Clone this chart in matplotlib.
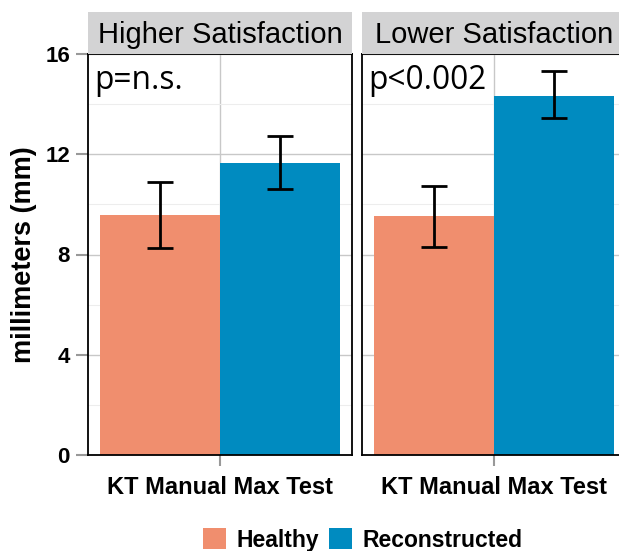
import matplotlib
matplotlib.use("Agg")
import matplotlib.pyplot as plt
from matplotlib.patches import Rectangle, Patch

# ---- data ----
panels = ["Higher Satisfaction", "Lower Satisfaction"]
pvals = ["p=n.s.", "p<0.002"]
groups = ["Healthy", "Reconstructed"]
category = "KT Manual Max Test"
means = {"Higher Satisfaction": [9.57, 11.67], "Lower Satisfaction": [9.52, 14.33]}
err_low = {"Higher Satisfaction": [8.25, 10.63], "Lower Satisfaction": [8.3, 13.43]}
err_high = {"Higher Satisfaction": [10.9, 12.73], "Lower Satisfaction": [10.72, 15.32]}
y_ticks = [0, 4, 8, 12, 16]
colors = ["#F08E6E", "#008BC0"]

W, H = 619, 551
fig = plt.figure(figsize=(W / 100, H / 100), dpi=100)
sans = ["Liberation Sans", "DejaVu Sans"]

panel_left = [88, 362]
panel_w = 264
top_px, bot_px = 54, 455
strip_top = 12

for i, name in enumerate(panels):
    x0 = panel_left[i] / W
    ax = fig.add_axes([x0, 1 - bot_px / H, panel_w / W, (bot_px - top_px) / H])
    ax.set_xlim(-0.55, 0.55)
    ax.set_ylim(0, 16)
    ax.set_yticks(y_ticks)
    ax.set_yticks([2, 6, 10, 14], minor=True)
    ax.grid(axis="y", which="major", color="#C8C8C8", lw=1.0, zorder=0)
    ax.grid(axis="y", which="minor", color="#EDEDED", lw=0.8, zorder=0)
    ax.axvline(0, color="#C8C8C8", lw=1.0, zorder=0)
    ax.set_axisbelow(True)
    xs = [-0.25, 0.25]
    ax.bar(xs, means[name], width=0.5, color=colors, zorder=2)
    lo = [m - l for m, l in zip(means[name], err_low[name])]
    hi = [h - m for m, h in zip(means[name], err_high[name])]
    ax.errorbar(xs, means[name], yerr=[lo, hi], fmt="none", ecolor="black",
                elinewidth=2.0, capsize=9.5, capthick=2.0, zorder=3)
    ax.set_xticks([0])
    ax.set_xticklabels([category], fontsize=17, fontweight="bold", family=sans)
    ax.tick_params(axis="x", length=8, width=1.5, color="#999999", pad=7)
    ax.tick_params(axis="y", which="major", length=9, width=1.5, color="#999999",
                   labelsize=16, pad=4)
    ax.tick_params(axis="y", which="minor", length=0)
    if i == 0:
        for lab in ax.get_yticklabels():
            lab.set_fontweight("bold")
            lab.set_family(sans)
        ax.set_ylabel("millimeters (mm)", fontsize=19.5, fontweight="bold",
                      family=sans, labelpad=6)
    else:
        ax.tick_params(axis="y", which="both", left=False, labelleft=False)
    for sp in ax.spines.values():
        sp.set_color("black")
        sp.set_linewidth(1.3)
    ax.text(0.022, 0.975, pvals[i], transform=ax.transAxes, ha="left", va="top",
            fontsize=22.8, family=["Open Sans", "DejaVu Sans"], zorder=4)
    # strip
    sax = fig.add_axes([x0, 1 - top_px / H, panel_w / W, (top_px - strip_top) / H])
    sax.set_xlim(0, 1)
    sax.set_ylim(0, 1)
    sax.axis("off")
    sax.add_patch(Rectangle((0, 0), 1, 1, facecolor="#D3D3D4", edgecolor="none"))
    sax.text(0.5, 0.45, name, ha="center", va="center",
             fontsize=21, family=sans)

handles = [Patch(facecolor=c, edgecolor="none") for c in colors]
leg = fig.legend(handles, groups, loc="center", bbox_to_anchor=(0.586, 1 - 540 / H),
                 ncol=2, frameon=False, handlelength=1.0, handleheight=1.0,
                 handletextpad=0.45, columnspacing=0.45,
                 prop={"family": sans, "weight": "bold", "size": 16.5})

fig.savefig("out.png", dpi=100)
